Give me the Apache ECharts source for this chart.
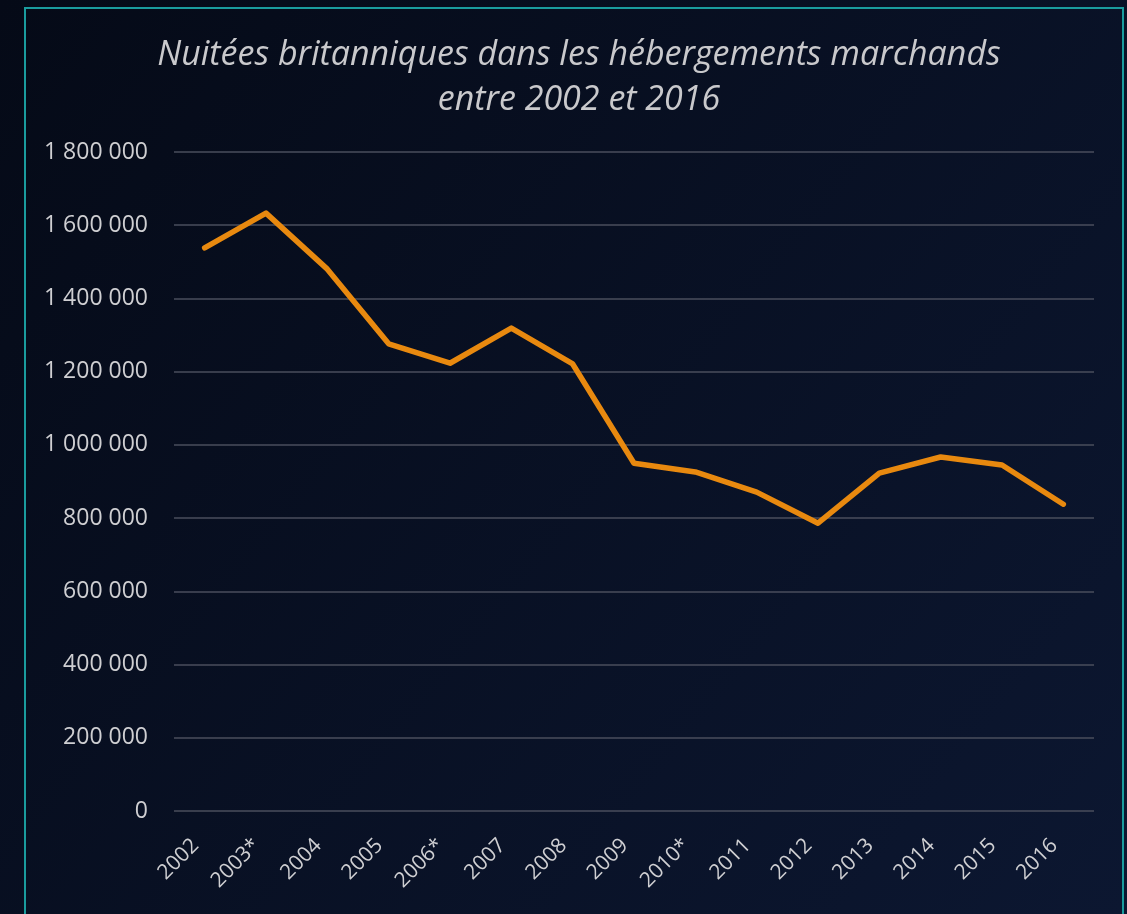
<!DOCTYPE html>
<html><head><meta charset="utf-8">
<script src="https://cdn.jsdelivr.net/npm/echarts@6/dist/echarts.min.js"></script>
<style>html,body{margin:0;padding:0;background:#060b19;}#c{width:1127px;height:914px;}</style>
</head><body><div id="c"></div>
<script>
const categories = ['2002','2003*','2004','2005','2006*','2007','2008','2009','2010*','2011','2012','2013','2014','2015','2016'];
const values = [1538000,1633000,1480000,1276000,1223000,1319000,1221000,950000,926000,871000,786000,923000,967000,945000,838000];
const titleLines = ['Nuitées britanniques dans les hébergements marchands','entre 2002 et 2016'];

const chart = echarts.init(document.getElementById('c'), null, {renderer:'canvas'});
chart.setOption({
  backgroundColor: new echarts.graphic.LinearGradient(0,0,1,1,[{offset:0,color:'#050a17'},{offset:1,color:'#0c1731'}]),
  animation:false,
  title:{
    text: titleLines.join('\n'),
    left:574, textAlign:'center', top:28,
    textStyle:{fontFamily:'Open Sans',fontStyle:'italic',fontWeight:'normal',fontSize:34,color:'#c9c9cc',lineHeight:45}
  },
  graphic:[{type:'rect',shape:{x:25,y:8,width:1098,height:920},style:{fill:'none',stroke:'#1a9c9e',lineWidth:2},silent:true}],
  grid:{left:174,right:33,top:152,bottom:103},
  xAxis:{
    type:'category', data:categories, boundaryGap:true,
    axisLine:{show:false}, axisTick:{show:false},
    axisLabel:{rotate:45,color:'#cfcfd2',fontFamily:'Open Sans',fontSize:21,margin:22,padding:[0,13,0,0]}
  },
  yAxis:{
    type:'value', min:0, max:1800000, interval:200000,
    axisLine:{show:false}, axisTick:{show:false},
    axisLabel:{color:'#cfcfd2',fontFamily:'Open Sans',fontSize:23,margin:26,
      formatter:v=>String(v).replace(/\B(?=(\d{3})+(?!\d))/g,' ')},
    splitLine:{lineStyle:{color:'#4a4e5c',width:1.5}}
  },
  series:[{type:'line',data:values,symbol:'none',lineStyle:{color:'#e8890f',width:5.5,cap:'round',join:'round'}}]
});
</script></body></html>
